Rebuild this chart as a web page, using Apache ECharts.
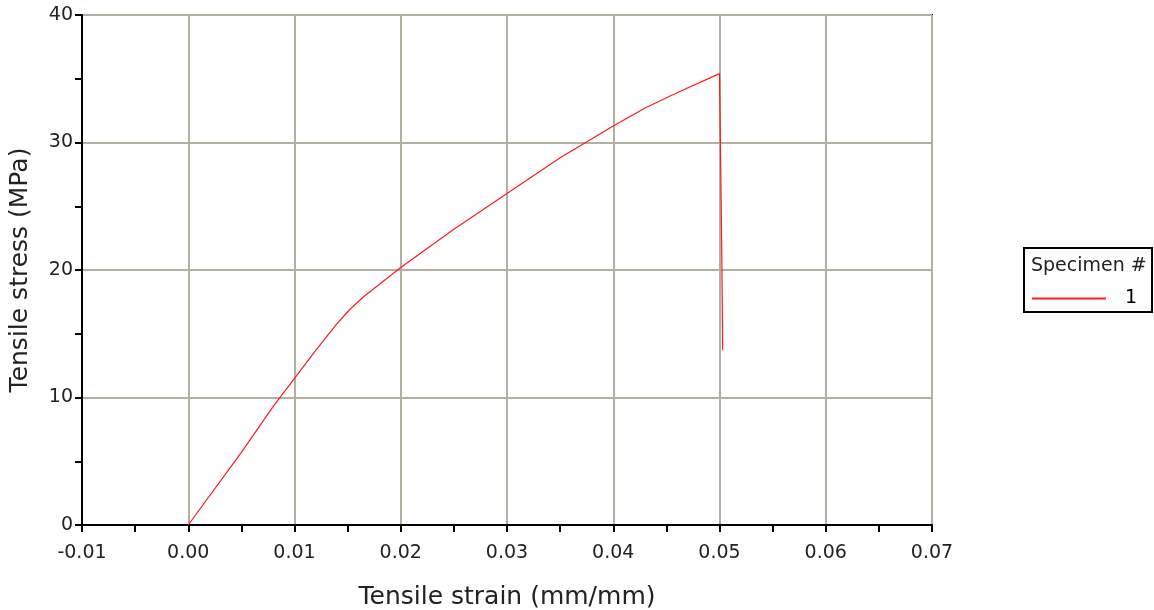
<!DOCTYPE html>
<html>
<head>
<meta charset="utf-8">
<script src="https://cdn.jsdelivr.net/npm/echarts@6/dist/echarts.min.js"></script>
<style>
  html, body { margin: 0; padding: 0; background: #fff; }
  #chart { width: 1154px; height: 610px; }
</style>
</head>
<body>
<div id="chart"></div>
<script>
// specimen 1 : strain (mm/mm) and stress (MPa)
var strain = [0, 0.005, 0.008, 0.010, 0.012, 0.014, 0.0152, 0.0165, 0.020, 0.025, 0.030, 0.035, 0.040, 0.043, 0.046, 0.050, 0.0502, 0.0503];
var stress = [0, 5.7, 9.3, 11.5, 13.7, 15.8, 16.9, 17.9, 20.2, 23.2, 26.0, 28.8, 31.3, 32.7, 33.9, 35.4, 22.5, 13.7];
var specimenName = '1';

var fontFam = '"DejaVu Sans", Verdana, sans-serif';
var gridColor = '#b3afa3';

var points = strain.map(function (s, i) { return [s, stress[i]]; });

var myChart = echarts.init(document.getElementById('chart'));
var option = {
    animation: false,
    grid: {
        left: 82,
        top: 15,
        width: 850,
        height: 510,
        outerBoundsMode: 'none',
        containLabel: false,
        show: true,
        borderColor: '#000',
        borderWidth: 2
    },
    xAxis: {
        type: 'value',
        min: -0.01,
        max: 0.07,
        interval: 0.01,
        name: 'Tensile strain (mm/mm)',
        nameLocation: 'middle',
        nameGap: 60,
        nameTextStyle: { fontFamily: fontFam, fontSize: 25, color: '#222' },
        axisLine: { onZero: false, lineStyle: { color: '#000', width: 2 } },
        axisTick: { show: true, length: 7, lineStyle: { color: '#000', width: 2 } },
        minorTick: { show: true, splitNumber: 2, length: 7, lineStyle: { color: '#000', width: 2 } },
        axisLabel: {
            fontFamily: fontFam, fontSize: 19, color: '#222', margin: 19,
            formatter: function (v) { return v.toFixed(2); }
        },
        splitLine: { show: true, lineStyle: { color: gridColor, width: 2 } }
    },
    yAxis: {
        type: 'value',
        min: 0,
        max: 40,
        interval: 10,
        name: 'Tensile stress (MPa)',
        nameLocation: 'middle',
        nameGap: 49,
        nameTextStyle: { fontFamily: fontFam, fontSize: 25, color: '#222' },
        axisLine: { onZero: false, lineStyle: { color: '#000', width: 2 } },
        axisTick: { show: true, length: 7, lineStyle: { color: '#000', width: 2 } },
        minorTick: { show: true, splitNumber: 2, length: 7, lineStyle: { color: '#000', width: 2 } },
        axisLabel: { fontFamily: fontFam, fontSize: 19, color: '#222', margin: 9 },
        splitLine: { show: true, lineStyle: { color: gridColor, width: 2 } }
    },
    legend: {
        left: 1027,
        top: 284,
        icon: 'rect',
        itemWidth: 74,
        itemHeight: 2,
        textStyle: { fontFamily: fontFam, fontSize: 19, color: '#000', padding: [0, 0, 0, 14] },
        data: [specimenName]
    },
    graphic: [
        {
            type: 'rect',
            shape: { x: 1024, y: 248, width: 128, height: 64 },
            style: { fill: 'none', stroke: '#000', lineWidth: 2 }
        },
        {
            type: 'text',
            left: 1031,
            top: 257,
            style: { text: 'Specimen #', font: '19px ' + fontFam, fill: '#222' }
        }
    ],
    series: [
        {
            name: specimenName,
            type: 'line',
            data: points,
            showSymbol: false,
            lineStyle: { color: '#ff1a1a', width: 1.2 },
            itemStyle: { color: '#ff1a1a' }
        }
    ]
};
myChart.setOption(option);
</script>
</body>
</html>
